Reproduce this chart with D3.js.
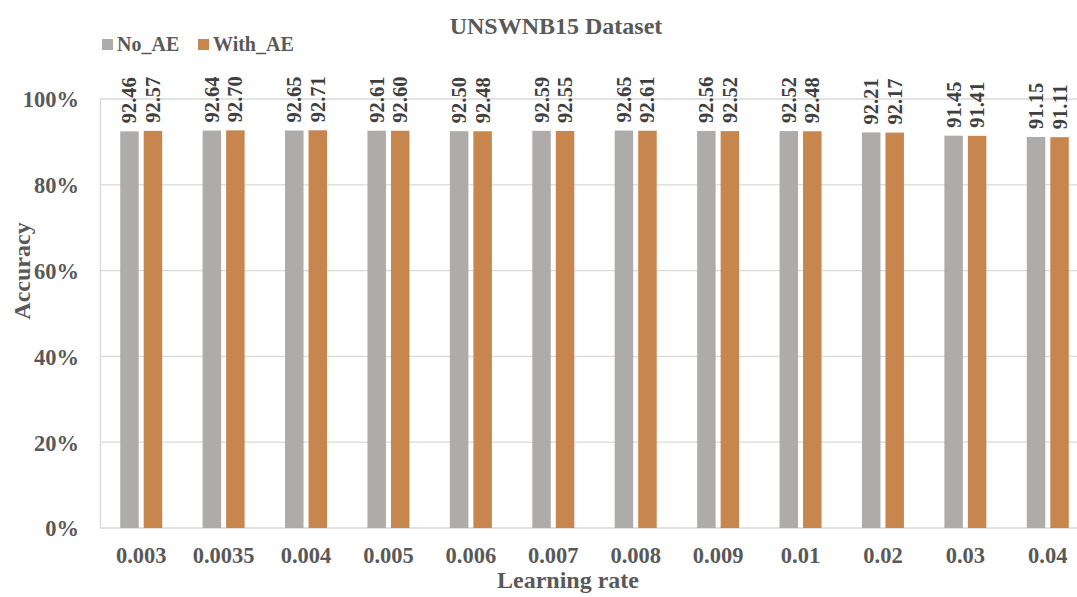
<!DOCTYPE html>
<html><head><meta charset="utf-8">
<script src="https://cdn.jsdelivr.net/npm/d3@7"></script>
<style>body{margin:0;background:#fff;} svg{display:block;} svg text{font-family:"Liberation Serif","Times New Roman",Tinos,"DejaVu Serif",serif;font-weight:bold;}</style>
</head><body>
<svg id="c" width="1077" height="597"></svg>
<script>
const categories = ["0.003","0.0035","0.004","0.005","0.006","0.007","0.008","0.009","0.01","0.02","0.03","0.04"];
const seriesNames = ["No_AE","With_AE"];
const noAE   = [92.46,92.64,92.65,92.61,92.50,92.59,92.65,92.56,92.52,92.21,91.45,91.15];
const withAE = [92.57,92.70,92.71,92.60,92.48,92.55,92.61,92.52,92.48,92.17,91.41,91.11];
const yTicks = [0,20,40,60,80,100];
const colors = ["#AEABAB","#C8864F"];

const svg = d3.select("#c");
const txt = "#595959";
const pL = 100, pR = 1089, pT = 99, pB = 528;

const x = d3.scaleBand().domain(categories).range([pL, pR]).padding(0);
const y = d3.scaleLinear().domain([0,100]).range([pB, pT]);

function style(sel, size, fill){
  sel.attr("font-family", null).style("font-size", size+"px").attr("fill", fill || txt);
  return sel;
}

// gridlines
svg.append("g").selectAll("line").data(yTicks.filter(d=>d>0)).join("line")
  .attr("x1", pL).attr("x2", 1077).attr("y1", d=>y(d)).attr("y2", d=>y(d))
  .attr("stroke","#d9d9d9").attr("stroke-width",1.3);

// y axis
const ya = svg.append("g").attr("transform",`translate(${pL},0)`)
  .call(d3.axisLeft(y).tickValues(yTicks).tickFormat(d=>d+"%").tickSize(0).tickPadding(21));
ya.attr("font-family", null);
ya.select(".domain").attr("stroke","#d9d9d9").attr("stroke-width",1.3);
style(ya.selectAll("text"), 22.5).attr("dy","0.35em");

// x axis
const xa = svg.append("g").attr("transform",`translate(0,${pB})`)
  .call(d3.axisBottom(x).tickSize(0).tickPadding(19));
xa.attr("font-family", null);
xa.select(".domain").remove();
svg.append("line").attr("x1",pL).attr("x2",1077).attr("y1",pB).attr("y2",pB)
  .attr("stroke","#d9d9d9").attr("stroke-width",1.5);
style(xa.selectAll("text"), 22.5);

const bw = 18.5, gap = 5;
const series = [noAE, withAE];
series.forEach((vals, si) => {
  const g = svg.append("g");
  const xpos = (c) => x(c) + x.bandwidth()/2 + (si===0 ? -gap/2 - bw : gap/2);
  g.selectAll("rect").data(vals).join("rect")
    .attr("x", (d,i)=>xpos(categories[i]))
    .attr("y", d=>y(d))
    .attr("width", bw)
    .attr("height", d=>pB - y(d))
    .attr("fill", colors[si]);
  style(g.selectAll("text").data(vals).join("text"), 20.5, "#404040")
    .attr("transform", (d,i)=>`translate(${xpos(categories[i]) + bw/2 + 7},${y(d)-8}) rotate(-90)`)
    .text(d=>d.toFixed(2));
});

// title
style(svg.append("text"), 24).attr("x",556).attr("y",34).attr("text-anchor","middle")
  .text("UNSWNB15 Dataset");

// legend
const leg = svg.append("g");
const legX = [102, 198];
seriesNames.forEach((n,i)=>{
  leg.append("rect").attr("x",legX[i]).attr("y",39).attr("width",11).attr("height",11).attr("fill",colors[i]);
  style(leg.append("text"), 20).attr("x",legX[i]+15).attr("y",51).text(n);
});

// axis titles
style(svg.append("text"), 24).attr("transform","translate(30,271) rotate(-90)").attr("text-anchor","middle").text("Accuracy");
style(svg.append("text"), 24).attr("x",568).attr("y",588).attr("text-anchor","middle").text("Learning rate");
</script>
</body></html>
